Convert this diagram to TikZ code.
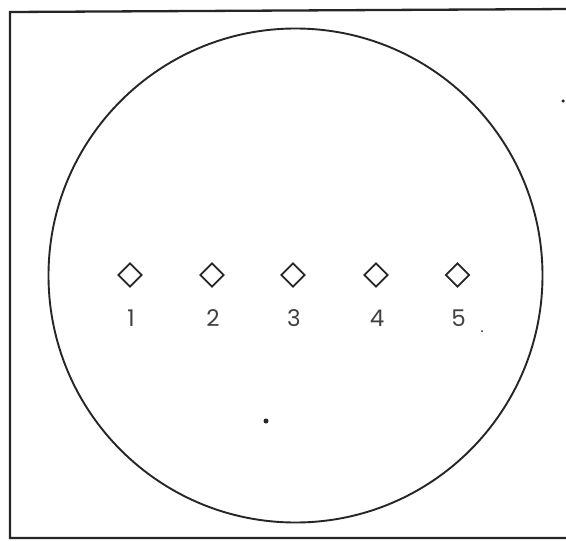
\documentclass[tikz,border=0pt]{standalone}
\usepackage{fontspec}
\setmainfont{Poppins}
\usetikzlibrary{shapes.geometric}
\begin{document}
\begin{tikzpicture}[x=1pt,y=-1pt,
  frameline/.style={line width=2.3pt, black!85},
  ring/.style={draw, circle, line width=1.9pt, black!85, minimum size=494pt, inner sep=0pt},
  marker/.style={draw, diamond, line width=1.7pt, black!85, minimum width=24pt, minimum height=24pt, inner sep=0pt},
  numlabel/.style={font=\fontsize{23}{26}\selectfont, text=black!75, inner sep=0pt},
  speck/.style={fill=black!85, circle, inner sep=0pt}]
\useasboundingbox (0,0) rectangle (566,541);
\fill[white] (0,0) rectangle (566,541);
\coordinate (tl) at (10,12);
\coordinate (tr) at (570,9);
\coordinate (bl) at (10,538);
\coordinate (br) at (570,538);
\draw[frameline] (tr) -- (tl) -- (bl) -- (br);
\node[ring] (c) at (295.5,275.5) {};
\foreach \i/\x in {1/130,2/212,3/293,4/376,5/457.5} {
  \node[marker] (d\i) at (\x,275) {};
  \node[numlabel] (l\i) at (\x+1,318) {\i};
}
\node[speck, minimum size=5pt] (s1) at (266,421) {};
\node[speck, minimum size=3.5pt] (s2) at (563,101) {};
\node[speck, minimum size=2pt] (s3) at (482,331) {};
\end{tikzpicture}
\end{document}
